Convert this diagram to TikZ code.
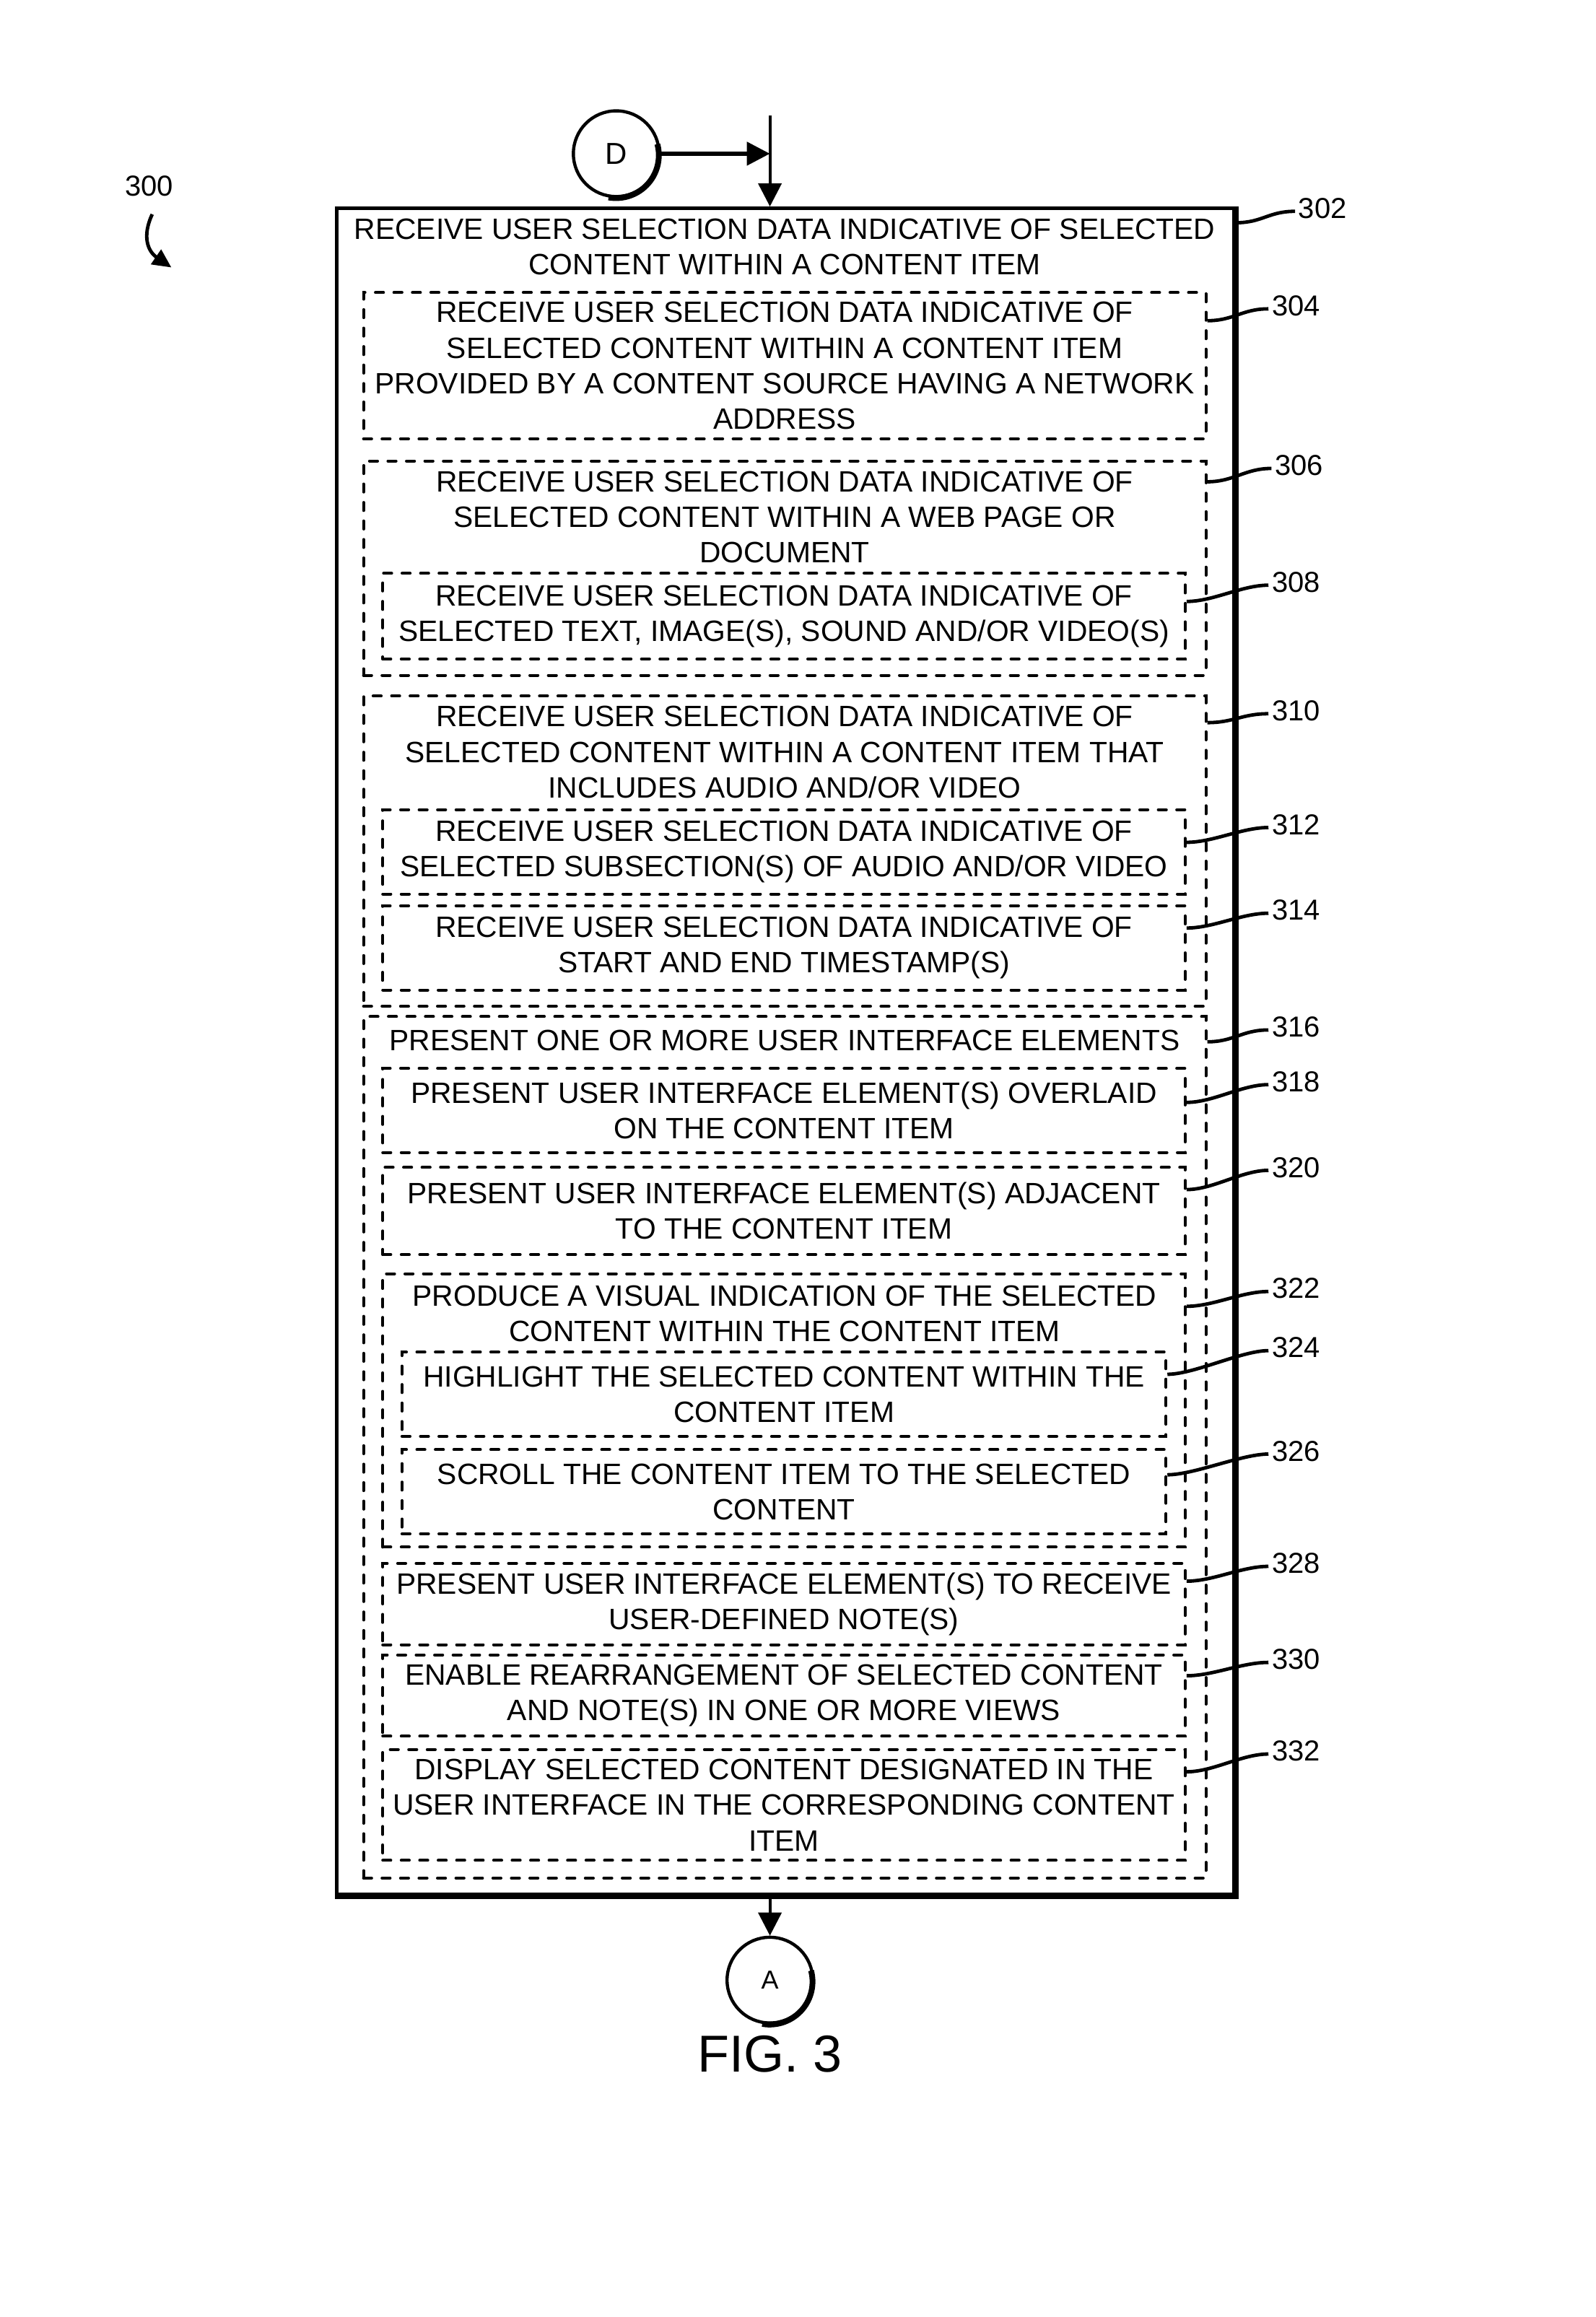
\documentclass[tikz,border=0pt]{standalone}
\usepackage{fontspec}
\setmainfont{Liberation Sans}
\usetikzlibrary{arrows.meta,calc}
\newcommand{\mybox}[6]{\node[dbox, minimum width={(#4-#2)*0.5118pt}, minimum height={(#5-#3)*0.5118pt}] (#1) at ({(#2+#4)/2},{(#3+#5)/2}) {#6};}
\newcommand{\refleader}[3]{\draw[leadline] ($(#1.north east)+(0,#2)$) .. controls +(18,0) and +(-18,0) .. ($(#3.west)+(0,2)$);}
\begin{document}
\begin{tikzpicture}[x=0.5118pt,y=-0.5118pt,
  txt/.style={font=\fontsize{10.2}{12.3}\selectfont, align=center, inner sep=0pt},
  dbox/.style={txt, draw, line width=1pt, dash pattern=on 2.8pt off 3.6pt, line cap=round, rectangle},
  sbox/.style={draw, line width=1.3pt, rectangle, inner sep=0pt},
  reflabel/.style={font=\fontsize{10}{12}\selectfont, inner sep=1pt},
  leadline/.style={line width=1.2pt},
  conn/.style={circle, draw, line width=1.1pt, inner sep=0pt, minimum size=58*0.5118pt},
  tip/.style={-{Triangle[length=8pt,width=8pt]}},
]
\useasboundingbox (0,0) rectangle (1080,1568);

% main box
\node[sbox, minimum width={607*0.5118pt}, minimum height={1141*0.5118pt}] (m302) at (531.5,711.5) {};
\draw[line width=2.1pt] (m302.north east) -- (m302.south east) -- (m302.south west);
\node[txt] (t302) at (531,167) {RECEIVE USER SELECTION DATA INDICATIVE OF SELECTED\\CONTENT WITHIN A CONTENT ITEM};

\mybox{b304}{246}{198}{816}{297}{RECEIVE USER SELECTION DATA INDICATIVE OF\\SELECTED CONTENT WITHIN A CONTENT ITEM\\PROVIDED BY A CONTENT SOURCE HAVING A NETWORK\\ADDRESS}

\mybox{b306}{246}{312}{816}{457}{}
\node[txt] (t306) at (531,350) {RECEIVE USER SELECTION DATA INDICATIVE OF\\SELECTED CONTENT WITHIN A WEB PAGE OR\\DOCUMENT};
\mybox{b308}{259}{388}{802}{446}{RECEIVE USER SELECTION DATA INDICATIVE OF\\SELECTED TEXT, IMAGE(S), SOUND AND/OR VIDEO(S)}

\mybox{b310}{246}{471}{816}{681}{}
\node[txt] (t310) at (531,509) {RECEIVE USER SELECTION DATA INDICATIVE OF\\SELECTED CONTENT WITHIN A CONTENT ITEM THAT\\INCLUDES AUDIO AND/OR VIDEO};
\mybox{b312}{259}{548}{802}{605}{RECEIVE USER SELECTION DATA INDICATIVE OF\\SELECTED SUBSECTION(S) OF AUDIO AND/OR VIDEO}
\mybox{b314}{259}{613}{802}{670}{RECEIVE USER SELECTION DATA INDICATIVE OF\\START AND END TIMESTAMP(S)}

\mybox{b316}{246}{688}{816}{1271}{}
\node[txt] (t316) at (531,704) {PRESENT ONE OR MORE USER INTERFACE ELEMENTS};
\mybox{b318}{259}{723}{802}{780}{PRESENT USER INTERFACE ELEMENT(S) OVERLAID\\ON THE CONTENT ITEM}
\mybox{b320}{259}{790}{802}{849}{PRESENT USER INTERFACE ELEMENT(S) ADJACENT\\TO THE CONTENT ITEM}
\mybox{b322}{259}{862}{802}{1047}{}
\node[txt] (t322) at (531,889) {PRODUCE A VISUAL INDICATION OF THE SELECTED\\CONTENT WITHIN THE CONTENT ITEM};
\mybox{b324}{272}{915}{789}{972}{HIGHLIGHT THE SELECTED CONTENT WITHIN THE\\CONTENT ITEM}
\mybox{b326}{272}{981}{789}{1038}{SCROLL THE CONTENT ITEM TO THE SELECTED\\CONTENT}
\mybox{b328}{259}{1058}{802}{1113}{PRESENT USER INTERFACE ELEMENT(S) TO RECEIVE\\USER-DEFINED NOTE(S)}
\mybox{b330}{259}{1120}{802}{1175}{ENABLE REARRANGEMENT OF SELECTED CONTENT\\AND NOTE(S) IN ONE OR MORE VIEWS}
\mybox{b332}{259}{1184}{802}{1259}{DISPLAY SELECTED CONTENT DESIGNATED IN THE\\USER INTERFACE IN THE CORRESPONDING CONTENT\\ITEM}

% reference labels
\node[reflabel] (l302) at (895,141) {302};
\node[reflabel] (l304) at (877,207) {304};
\node[reflabel] (l306) at (879,315) {306};
\node[reflabel] (l308) at (877,394) {308};
\node[reflabel] (l310) at (877,481) {310};
\node[reflabel] (l312) at (877,558) {312};
\node[reflabel] (l314) at (877,616) {314};
\node[reflabel] (l316) at (877,695) {316};
\node[reflabel] (l318) at (877,732) {318};
\node[reflabel] (l320) at (877,790) {320};
\node[reflabel] (l322) at (877,872) {322};
\node[reflabel] (l324) at (877,912) {324};
\node[reflabel] (l326) at (877,982) {326};
\node[reflabel] (l328) at (877,1058) {328};
\node[reflabel] (l330) at (877,1123) {330};
\node[reflabel] (l332) at (877,1185) {332};

\refleader{m302}{11}{l302}
\refleader{b304}{20}{l304}
\refleader{b306}{15}{l306}
\refleader{b308}{20}{l308}
\refleader{b310}{19}{l310}
\refleader{b312}{23}{l312}
\refleader{b314}{16}{l314}
\refleader{b316}{18}{l316}
\refleader{b318}{24}{l318}
\refleader{b320}{16}{l320}
\refleader{b322}{23}{l322}
\refleader{b324}{16}{l324}
\refleader{b326}{18}{l326}
\refleader{b328}{13}{l328}
\refleader{b330}{15}{l330}
\refleader{b332}{16}{l332}

% figure number 300
\node[reflabel] (l300) at (101,126) {300};
\coordinate (a300s) at (103,145);
\coordinate (a300e) at (116,181);
\draw[line width=1.2pt, -{Triangle[length=6.5pt,width=6pt]}] (a300s) .. controls (96,160) and (100,170) .. (a300e);

% connector D
\node[conn, font=\fontsize{10.5}{12}\selectfont] (cD) at (417,104) {D};
\draw[line width=2pt] (cD.-100) arc[start angle=-100, end angle=15, radius=14.85pt];
\coordinate (vtop) at (521,78);
\coordinate (vjoin) at (521,104);
\draw[line width=1.3pt, tip] (cD.east) -- (vjoin);
\draw[line width=1pt, tip] (vtop) -- (vtop |- m302.north);

% connector A
\node[conn, font=\fontsize{9}{11}\selectfont] (cA) at (521,1340) {A};
\draw[line width=2pt] (cA.-100) arc[start angle=-100, end angle=15, radius=14.85pt];
\draw[line width=1pt, tip] (cA.north |- m302.south) -- (cA.north);

\node[font=\fontsize{18}{20}\selectfont, inner sep=0pt] (fig) at (521,1390) {FIG. 3};
\end{tikzpicture}
\end{document}
